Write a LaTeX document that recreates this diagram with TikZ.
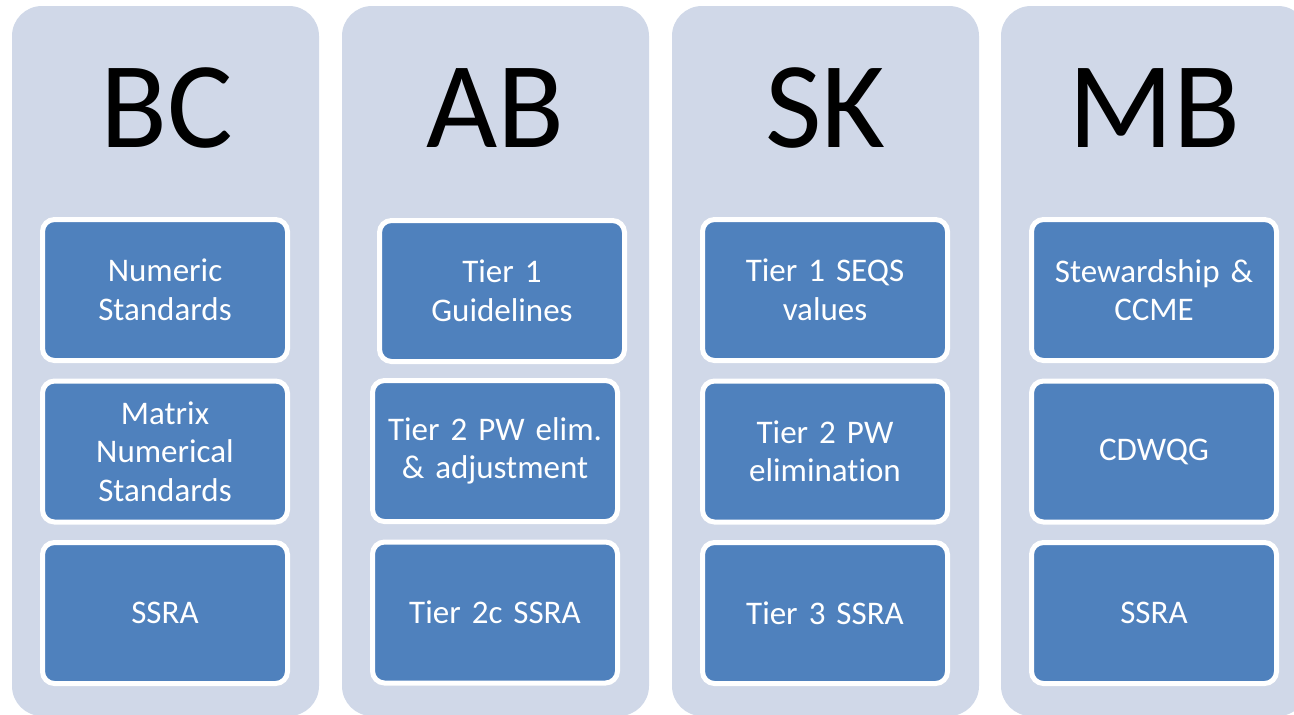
\documentclass[tikz,border=0pt]{standalone}
\usepackage{fontspec}
\setmainfont{Carlito}[Ligatures=CommonOff, WordSpace=0.6]
\usepackage{xcolor}
\usepackage{tikz}
\usetikzlibrary{positioning}

\definecolor{panelbg}{HTML}{D0D8E8}
\definecolor{tierblue}{HTML}{4F81BD}

\begin{document}
\begin{tikzpicture}[x=1pt, y=-1pt, node distance=15.5pt,
  panel/.style={fill=panelbg, rounded corners=30pt},
  head/.style={anchor=base, text=black, inner sep=0pt, font=\fontsize{123}{130}\selectfont},
  tier/.style={draw=white, line width=5pt, fill=tierblue, rounded corners=12pt,
    minimum width=245pt, minimum height=141pt, text width=235pt, inner sep=0pt,
    align=center, text=white, font=\fontsize{33}{38.5}\selectfont}]
  \useasboundingbox (0,0) rectangle (1294,715);

  % BC
  \begin{scope}
    \fill[panel] (12,6) rectangle (319,716);
    \node[head] (bcHead) at (167,147) {BC};
    \node[tier] (bcNum) at (165,290) {Numeric\\Standards};
    \node[tier, below=of bcNum] (bcMatrix) {Matrix\\Numerical\\Standards};
    \node[tier, below=of bcMatrix] (bcSsra) {SSRA};
  \end{scope}

  % AB
  \begin{scope}[xshift=330pt]
    \fill[panel] (12,6) rectangle (319,716);
    \node[head] (abHead) at (165.5,147) {AB};
    % first box sits a little to the right
    \node[tier] (abTierOne) at (172,291) {Tier 1\\Guidelines};
    \node[tier] (abTierTwo) at (165,451) {Tier 2 PW elim.\\\& adjustment};
    \node[tier, below=of abTierTwo] (abSsra) {Tier 2c SSRA};
  \end{scope}

  % SK
  \begin{scope}[xshift=660pt]
    \fill[panel] (12,6) rectangle (319,716);
    \node[head] (skHead) at (165.5,147) {SK};
    \node[tier] (skTierOne) at (165,290) {Tier 1 SEQS\\values};
    \node[tier, below=of skTierOne] (skTierTwo) {Tier 2 PW\\elimination};
    \node[tier, below=of skTierTwo] (skSsra) {Tier 3 SSRA};
  \end{scope}

  % MB
  \begin{scope}[xshift=989pt]
    \fill[panel] (12,6) rectangle (319,716);
    \node[head] (mbHead) at (165.5,147) {MB};
    \node[tier] (mbStew) at (165,290) {Stewardship \&\\CCME};
    \node[tier, below=of mbStew] (mbCdwqg) {CDWQG};
    \node[tier, below=of mbCdwqg] (mbSsra) {SSRA};
  \end{scope}
\end{tikzpicture}
\end{document}
